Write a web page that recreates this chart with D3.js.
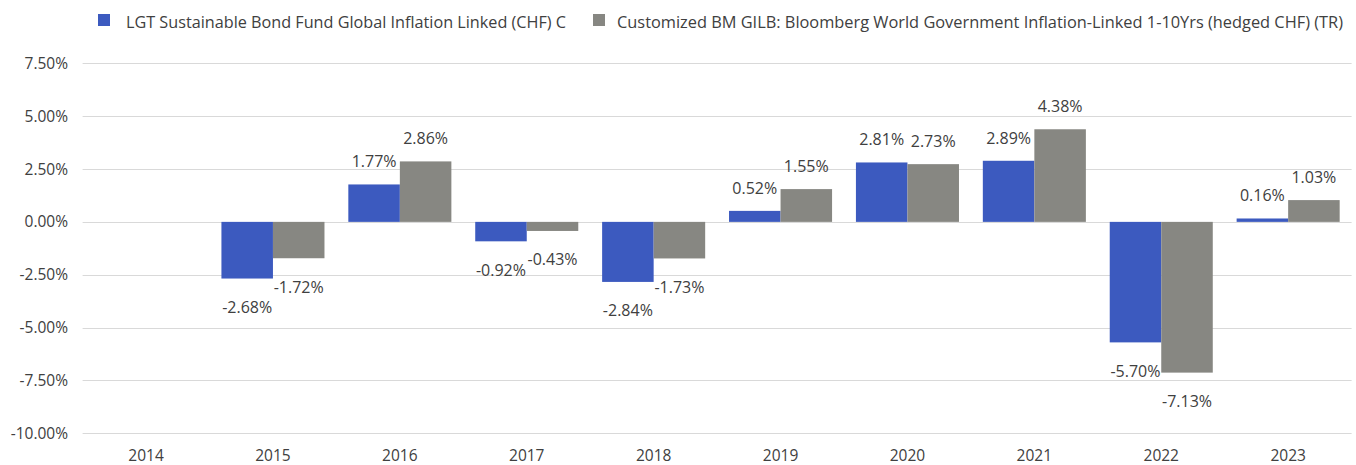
<!DOCTYPE html>
<html>
<head>
<meta charset="utf-8">
<script src="https://cdn.jsdelivr.net/npm/d3@7"></script>
<style>
  html, body { margin: 0; padding: 0; background: #ffffff; }
  svg { display: block; }
  text { font-family: "Open Sans", "Noto Sans", sans-serif; fill: #404040; }
</style>
</head>
<body>
<svg id="chart" width="1356" height="465"></svg>
<script>
const categories = ["2014", "2015", "2016", "2017", "2018", "2019", "2020", "2021", "2022", "2023"];
const seriesNames = [
  "LGT Sustainable Bond Fund Global Inflation Linked (CHF) C",
  "Customized BM GILB: Bloomberg World Government Inflation-Linked 1-10Yrs (hedged CHF) (TR)"
];
const fundValues = [null, -2.68, 1.77, -0.92, -2.84, 0.52, 2.81, 2.89, -5.70, 0.16];
const benchmarkValues = [null, -1.72, 2.86, -0.43, -1.73, 1.55, 2.73, 4.38, -7.13, 1.03];
const yTicks = [-10, -7.5, -5, -2.5, 0, 2.5, 5, 7.5];
const colors = ["#3c5abf", "#878782"];

(function () {
const svg = d3.select("#chart");
const pLeft = 82.6, pRight = 1351.6, pTop = 63.3, pBottom = 433.3;

const x0 = d3.scaleBand().domain(categories).range([pLeft, pRight])
  .paddingInner(0.188).paddingOuter(0.094);
const x1 = d3.scaleBand().domain(["fund", "bm"]).range([0, x0.bandwidth()]).padding(0);
const y = d3.scaleLinear().domain([-10, 7.5]).range([pBottom, pTop]);

// gridlines
svg.append("g").selectAll("line").data(yTicks).join("line")
  .attr("x1", pLeft).attr("x2", pRight)
  .attr("y1", d => Math.round(y(d)) + 0.5).attr("y2", d => Math.round(y(d)) + 0.5)
  .attr("stroke", "#d9d9d9").attr("stroke-width", 1);

// y tick labels
const fmt = v => v.toFixed(2) + "%";
svg.append("g").selectAll("text").data(yTicks).join("text")
  .attr("x", 68).attr("y", d => y(d)).attr("dy", "0.36em")
  .attr("text-anchor", "end").style("font-size", "15.5px")
  .text(d => fmt(d));

// x labels
svg.append("g").selectAll("text").data(categories).join("text")
  .attr("x", d => x0(d) + x0.bandwidth() / 2).attr("y", 460.5)
  .attr("text-anchor", "middle").style("font-size", "15.5px")
  .text(d => d);

// data
const rows = categories.map((c, i) => ({cat: c, vals: [
  {key: "fund", v: fundValues[i], ci: 0},
  {key: "bm", v: benchmarkValues[i], ci: 1}
].filter(d => d.v !== null)}));

const groups = svg.append("g").selectAll("g").data(rows).join("g")
  .attr("transform", d => `translate(${x0(d.cat)},0)`);

groups.selectAll("rect").data(d => d.vals).join("rect")
  .attr("x", d => x1(d.key)).attr("width", x1.bandwidth())
  .attr("y", d => Math.min(y(d.v), y(0)))
  .attr("height", d => Math.abs(y(d.v) - y(0)))
  .attr("fill", d => colors[d.ci]);

groups.selectAll("text").data(d => d.vals).join("text")
  .attr("x", d => x1(d.key) + x1.bandwidth() / 2)
  .attr("y", d => d.v >= 0 ? y(d.v) - 17 : y(d.v) + 34.5)
  .attr("text-anchor", "middle").style("font-size", "16px")
  .text(d => fmt(d.v));

// legend
const legendItems = [
  {name: seriesNames[0], rx: 98, tx: 126, len: 440, ci: 0},
  {name: seriesNames[1], rx: 593, tx: 617, len: 726, ci: 1}
];
const lg = svg.append("g");
lg.selectAll("rect").data(legendItems).join("rect")
  .attr("x", d => d.rx).attr("y", 14).attr("width", 12).attr("height", 12)
  .attr("fill", d => colors[d.ci]);
lg.selectAll("text").data(legendItems).join("text")
  .attr("x", d => d.tx).attr("y", 27.5)
  .attr("textLength", d => d.len).attr("lengthAdjust", "spacingAndGlyphs")
  .style("font-size", "16px")
  .text(d => d.name);
})();
</script>
</body>
</html>
